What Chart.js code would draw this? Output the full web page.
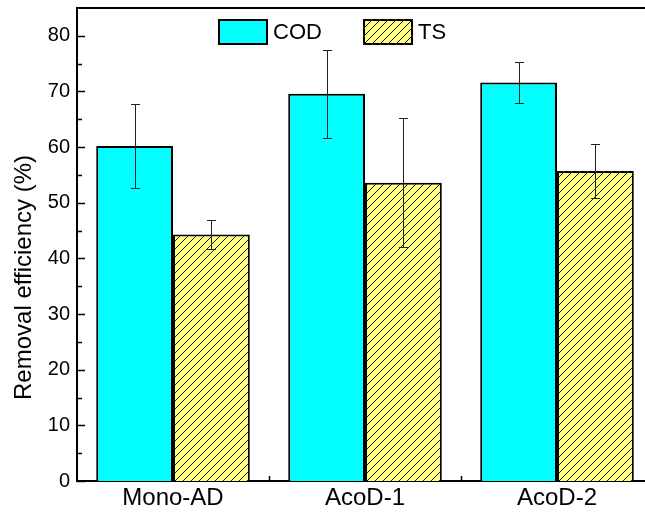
<!DOCTYPE html>
<html>
  <head>
    <title>Removal efficiency</title>
    <script src="https://cdn.jsdelivr.net/npm/chart.js@4.4.0/dist/chart.umd.min.js"></script>
    <style>
      html, body { margin: 0; padding: 0; background: #fff; overflow: hidden; }
      #container { width: 645px; height: 518px; overflow: hidden; }
    </style>
  </head>
  <body>
    <div id="container"><canvas id="canvas" width="660" height="518"></canvas></div>
    <script>
      const categories = ['Mono-AD', 'AcoD-1', 'AcoD-2'];
      const seriesNames = ['COD', 'TS'];
      const codValues = [60.2, 69.6, 71.6];
      const codErrors = [7.5, 7.9, 3.7];
      const tsValues = [44.3, 53.6, 55.7];
      const tsErrors = [2.6, 11.6, 4.9];
      const yMajorTicks = [0, 10, 20, 30, 40, 50, 60, 70, 80];
      const yMinorTicks = [5, 15, 25, 35, 45, 55, 65, 75];
      const yTitle = 'Removal efficiency (%)';

      const FONT = '"Liberation Sans", Arial, sans-serif';

      // yellow hatch for TS bars
      function hatch() {
        const c = document.createElement('canvas');
        c.width = 8; c.height = 8;
        const g = c.getContext('2d');
        g.fillStyle = '#ffff80';
        g.fillRect(0, 0, 8, 8);
        g.strokeStyle = '#1a1a1a';
        g.lineWidth = 1;
        g.beginPath();
        g.moveTo(0, 8); g.lineTo(8, 0);
        g.moveTo(-1, 1); g.lineTo(1, -1);
        g.moveTo(7, 9); g.lineTo(9, 7);
        g.stroke();
        return g.createPattern(c, 'repeat');
      }
      const tsFill = hatch();

      const errorBars = {
        id: 'errorBars',
        afterDatasetsDraw(chart) {
          const ctx = chart.ctx;
          const y = chart.scales.y;
          ctx.save();
          ctx.strokeStyle = '#222';
          ctx.lineWidth = 1;
          chart.data.datasets.forEach((ds, di) => {
            const meta = chart.getDatasetMeta(di);
            meta.data.forEach((bar, i) => {
              const v = ds.data[i], e = ds.errors[i];
              const x = Math.round(bar.x) + 0.5;
              const yt = Math.round(y.getPixelForValue(v + e)) + 0.5;
              const yb = Math.round(y.getPixelForValue(v - e)) + 0.5;
              ctx.beginPath();
              ctx.moveTo(x, yt); ctx.lineTo(x, yb);
              ctx.moveTo(x - 4.5, yt); ctx.lineTo(x + 4.5, yt);
              ctx.moveTo(x - 4.5, yb); ctx.lineTo(x + 4.5, yb);
              ctx.stroke();
            });
          });
          ctx.restore();
        },
      };

      const frame = {
        id: 'frame',
        afterDraw(chart) {
          const ctx = chart.ctx;
          const a = chart.chartArea;
          const y = chart.scales.y;
          const x = chart.scales.x;
          ctx.save();
          ctx.strokeStyle = '#000';
          // top border
          ctx.lineWidth = 2;
          ctx.beginPath();
          ctx.moveTo(a.left - 1, a.top); ctx.lineTo(a.right, a.top);
          ctx.stroke();
          // inward ticks
          ctx.lineWidth = 1.5;
          ctx.beginPath();
          yMajorTicks.forEach(v => {
            const p = Math.round(y.getPixelForValue(v)) + 0.5;
            ctx.moveTo(a.left, p); ctx.lineTo(a.left + 8, p);
          });
          yMinorTicks.forEach(v => {
            const p = Math.round(y.getPixelForValue(v)) + 0.5;
            ctx.moveTo(a.left, p); ctx.lineTo(a.left + 5, p);
          });
          for (let i = 1; i < categories.length; i++) {
            const p = Math.round((x.getPixelForValue(i - 1) + x.getPixelForValue(i)) / 2) + 0.5;
            ctx.moveTo(p, a.bottom); ctx.lineTo(p, a.bottom - 5);
          }
          ctx.stroke();

          // y title (sits a bit below the middle, as in the original)
          ctx.fillStyle = '#000';
          ctx.font = '24px ' + FONT;
          ctx.textAlign = 'center';
          ctx.textBaseline = 'middle';
          ctx.translate(24, (a.top + a.bottom) / 2 + 33);
          ctx.rotate(-Math.PI / 2);
          ctx.fillText(yTitle, 0, 0);
          ctx.setTransform(1, 0, 0, 1, 0, 0);

          // legend
          const items = [[219, chart.data.datasets[0]], [364, chart.data.datasets[1]]];
          ctx.font = '22px ' + FONT;
          ctx.textAlign = 'left';
          items.forEach(([lx, ds]) => {
            ctx.fillStyle = ds.backgroundColor;
            ctx.fillRect(lx, 20, 48, 24);
            ctx.lineWidth = 2;
            ctx.strokeStyle = '#000';
            ctx.strokeRect(lx, 20, 48, 24);
            ctx.fillStyle = '#000';
            ctx.fillText(ds.label, lx + 54, 33);
          });
          ctx.restore();
        },
      };

      window.onload = () => {
        const ctx = document.getElementById('canvas').getContext('2d');
        new Chart(ctx, {
          type: 'bar',
          data: {
            labels: categories,
            datasets: [
              {
                label: seriesNames[0],
                data: codValues,
                errors: codErrors,
                backgroundColor: '#00ffff',
                borderColor: '#000',
                borderWidth: 2,
              },
              {
                label: seriesNames[1],
                data: tsValues,
                errors: tsErrors,
                backgroundColor: tsFill,
                borderColor: '#000',
                borderWidth: 2,
              },
            ],
          },
          plugins: [errorBars, frame],
          options: {
            responsive: false,
            maintainAspectRatio: false,
            animation: false,
            devicePixelRatio: 1,
            datasets: { bar: { categoryPercentage: 0.8, barPercentage: 1.0 } },
            layout: { padding: { left: 0, top: 8, right: 7, bottom: 0 } },
            plugins: { legend: { display: false }, tooltip: { enabled: false } },
            scales: {
              x: {
                grid: { display: false, drawTicks: false },
                border: { display: true, color: '#000', width: 2 },
                ticks: { color: '#000', font: { family: FONT, size: 24 }, padding: 3, maxRotation: 0 },
                afterFit(scale) {
                  scale.height = 37;
                  scale.paddingLeft = 0; scale.paddingRight = 0;
                },
              },
              y: {
                min: 0,
                max: 85,
                grid: { display: false, drawTicks: false },
                border: { display: true, color: '#000', width: 2 },
                ticks: { stepSize: 10, color: '#000', font: { family: FONT, size: 20 }, padding: 7 },
                afterBuildTicks(scale) {
                  scale.ticks = scale.ticks.filter(t => yMajorTicks.includes(t.value));
                },
                afterFit(scale) {
                  scale.width = 77;
                  scale.paddingTop = 0; scale.paddingBottom = 0;
                },
              },
            },
          },
        });
      };
    </script>
  </body>
</html>
